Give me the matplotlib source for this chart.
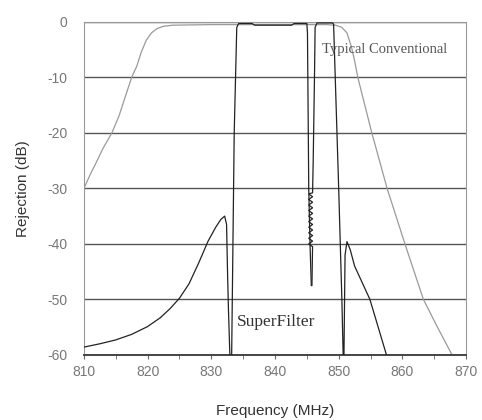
import matplotlib.pyplot as plt
from matplotlib.ticker import MultipleLocator

plt.rcParams['axes.unicode_minus'] = False

# typical conventional filter (gray)
conv_freq = [810, 811, 812, 813, 814.4, 815.5, 816.5, 817.5, 818.3, 819, 819.8, 820.6,
             821.5, 822.5, 824, 830, 840, 848, 849.5, 850.5, 851.3, 852, 852.5, 853,
             855.2, 857.6, 860.4, 863.3, 865.5, 867.8]
conv_rej = [-30, -27.5, -25.2, -22.8, -20, -17, -13.5, -10, -8, -5.5, -3.3, -2,
            -1.2, -0.8, -0.6, -0.5, -0.5, -0.5, -0.6, -1.0, -2, -4.5, -7, -10,
            -20, -30, -40, -50, -55, -60]

# superfilter, lower band
sfa_freq = [810, 812.5, 815, 817.5, 820, 822, 823.5, 825, 826.5, 828, 829.5, 830.7,
            831.5, 832.1, 832.4, 832.55, 832.7, 833.0, 833.2, 833.6, 834.0, 834.3,
            836.4, 836.8, 842.6, 843.0, 845.0, 845.1, 845.3, 845.5, 845.7]
sfa_rej = [-58.6, -58.0, -57.3, -56.3, -54.9, -53.3, -51.7, -49.8, -47.2, -43.5, -39.5, -37,
           -35.6, -35, -36.5, -45, -52, -63, -60, -20, -1, -0.3,
           -0.3, -0.6, -0.6, -0.3, -0.3, -2, -30, -40, -47.5]

# superfilter, upper band (noisy stretch near the notch)
sfb_freq = [845.8, 845.9,
            845.3, 845.9, 845.3, 845.9, 845.3, 845.9, 845.3, 845.9, 845.3, 845.9,
            845.3, 845.9, 845.3, 845.9, 845.3, 845.9, 845.3, 845.9, 845.3, 845.9,
            846.0, 846.2, 846.3, 846.6, 849.0, 849.2,
            850.0, 850.5, 850.7, 850.8, 851.0, 851.3, 851.8, 852.5, 854.9, 857.5]
sfb_rej = [-47.5, -40.5,
           -40.0, -39.5, -39.0, -38.5, -38.0, -37.5, -37.0, -36.5, -36.0, -35.5,
           -35.0, -34.5, -34.0, -33.5, -33.0, -32.5, -32.0, -31.5, -31.0, -30.8,
           -25, -10, -1, -0.2, -0.2, -0.4,
           -30, -50, -60, -63, -42, -39.6, -41, -44, -50, -60]

x_ticks = [810, 820, 830, 840, 850, 860, 870]
y_ticks = [0, -10, -20, -30, -40, -50, -60]

fig = plt.figure(figsize=(4.82, 4.2), dpi=100)
ax = fig.add_axes([0.174, 0.155, 0.793, 0.793])

for y in y_ticks:
    ax.axhline(y, color='#555555', lw=1.0, zorder=1)

ax.plot(conv_freq, conv_rej, color='#9a9a9a', lw=0.9, zorder=2)
ax.plot(sfa_freq, sfa_rej, color='#222222', lw=0.9, zorder=3)
ax.plot(sfb_freq, sfb_rej, color='#222222', lw=0.9, zorder=3)

ax.set_xlim(810, 870)
ax.set_ylim(-60, 0)
ax.set_xticks(x_ticks)
ax.set_yticks(y_ticks)
ax.xaxis.set_minor_locator(MultipleLocator(5))

for side in ['left', 'top', 'right']:
    ax.spines[side].set_color('#999999')
ax.spines['bottom'].set_color('#444444')
ax.spines['bottom'].set_linewidth(1.4)

ax.tick_params(axis='x', which='both', length=3, color='#666666',
               labelsize=10, labelcolor='#777777', pad=4)
ax.tick_params(axis='y', length=0, labelsize=10, labelcolor='#777777', pad=12)
for lbl in ax.get_xticklabels() + ax.get_yticklabels():
    lbl.set_family('Liberation Sans')

ax.set_xlabel('Frequency (MHz)', fontsize=11, color='#333333',
              family='Liberation Sans', labelpad=18)
ax.set_ylabel('Rejection (dB)', fontsize=11, color='#333333',
              family='Liberation Sans', labelpad=12)

ax.text(847.4, -5.0, 'Typical Conventional', fontsize=10.5, color='#555555',
        family='Liberation Serif', va='center', ha='left')
ax.text(834.0, -54.0, 'SuperFilter', fontsize=12.5, color='#333333',
        family='Liberation Serif', va='center', ha='left')

fig.savefig('out.png', dpi=100)
